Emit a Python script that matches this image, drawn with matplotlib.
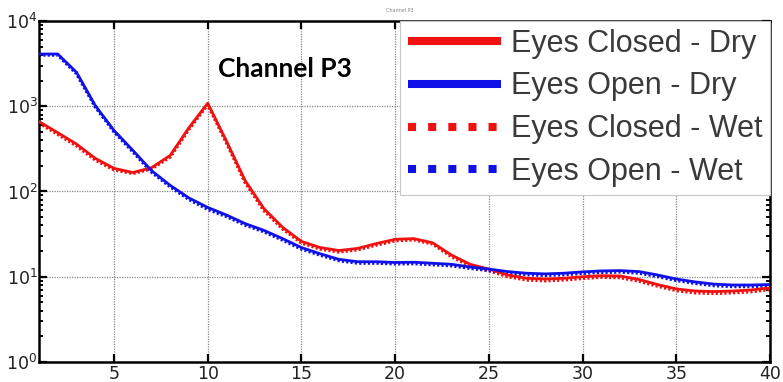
import math
import matplotlib
matplotlib.use("Agg")
import matplotlib.pyplot as plt
from matplotlib.lines import Line2D
from matplotlib.ticker import FixedLocator, LogLocator, NullFormatter, FuncFormatter

freq = list(range(1, 41))
closed_dry = [660, 490, 360, 245, 187, 167, 190, 265, 560, 1085,
              390, 134, 63, 38, 26, 22, 20.3, 21.5, 24.5, 27.5,
              28, 25, 18, 14, 12.3, 10.5, 9.6, 9.4, 9.6, 10,
              10.3, 10.2, 9.3, 8.1, 7.2, 6.8, 6.7, 6.8, 7.0, 7.4]
open_dry = [4100, 4100, 2500, 1020, 520, 305, 176, 118, 84, 65,
            53, 42, 35, 28, 22, 18.6, 16, 15, 15, 14.7,
            14.8, 14.4, 14, 13, 12.3, 11.5, 11, 10.8, 11, 11.4,
            11.7, 11.8, 11.5, 10.5, 9.4, 8.7, 8.2, 8.0, 8.0, 8.1]
closed_wet = [640, 470, 345, 235, 180, 163, 185, 255, 540, 1050,
              375, 128, 60, 36.5, 25, 21.2, 19.6, 20.8, 23.6, 26.5,
              27.2, 24.3, 17.3, 13.4, 11.8, 10.1, 9.2, 9.0, 9.2, 9.6,
              9.9, 9.8, 8.9, 7.8, 6.9, 6.5, 6.4, 6.5, 6.7, 7.1]
open_wet = [4000, 4000, 2420, 990, 505, 295, 170, 114, 81, 62,
            51, 40.5, 33.8, 27, 21.2, 18, 15.5, 14.5, 14.5, 14.2,
            14.3, 13.9, 13.5, 12.6, 11.9, 11.1, 10.6, 10.4, 10.6, 11,
            11.3, 11.4, 11.1, 10.1, 9.1, 8.4, 7.9, 7.7, 7.7, 7.8]
x_ticks = [5, 10, 15, 20, 25, 30, 35, 40]
labels = ["Eyes Closed - Dry", "Eyes Open - Dry", "Eyes Closed - Wet", "Eyes Open - Wet"]

RED = "#f01010"
BLUE = "#1010e8"

plt.rcParams['mathtext.fontset'] = 'custom'
plt.rcParams['mathtext.rm'] = 'DejaVu Sans'

fig = plt.figure(figsize=(7.83, 3.82), dpi=100)
ax = fig.add_axes([0.0498, 0.0524, 0.9336, 0.8926])

ax.plot(freq, closed_wet, color=RED, lw=2.6, ls=(0, (0.6, 0.6)), dash_capstyle='butt', zorder=2)
ax.plot(freq, open_wet, color=BLUE, lw=2.6, ls=(0, (0.6, 0.6)), dash_capstyle='butt', zorder=2)
ax.plot(freq, closed_dry, color=RED, lw=2.0, zorder=3)
ax.plot(freq, open_dry, color=BLUE, lw=2.0, zorder=3)

ax.set_yscale('log')
ax.set_xlim(1, 40)
ax.set_ylim(1, 1e4)
ax.xaxis.set_major_locator(FixedLocator(x_ticks))
ax.yaxis.set_major_locator(LogLocator(base=10, numticks=10))
ax.yaxis.set_minor_locator(LogLocator(base=10, subs=range(2, 10), numticks=20))
ax.yaxis.set_minor_formatter(NullFormatter())
ax.yaxis.set_major_formatter(FuncFormatter(lambda v, p: r"$10^{%d}$" % round(math.log10(v))))

ax.grid(True, which='major', color='#888888', ls=(0, (1, 1)), lw=0.9)
for s in ax.spines.values():
    s.set_linewidth(1.8)
    s.set_color('black')
ax.tick_params(which='both', direction='in', top=True, right=True, labelsize=12.5, pad=1)
ax.tick_params(which='major', length=6, width=1.6)
ax.tick_params(which='minor', length=3, width=1.4)
ax.tick_params(axis='x', pad=2)
for lab in ax.get_xticklabels() + ax.get_yticklabels():
    lab.set_color('#222222')

ax.text(0.245, 0.86, "Channel P3", transform=ax.transAxes, fontsize=19,
        fontweight='bold', family='Lato', ha='left', va='center', color='black')
fig.text(0.51, 0.972, "Channel P3", fontsize=3.5, color='#888888', ha='center', va='center')

handles = [
    Line2D([], [], color=RED, lw=5.8, solid_capstyle='butt'),
    Line2D([], [], color=BLUE, lw=5.8, solid_capstyle='butt'),
    Line2D([], [], color=RED, lw=5.8, ls=(0, (1, 1.5)), dash_capstyle='butt'),
    Line2D([], [], color=BLUE, lw=5.8, ls=(0, (1, 1.5)), dash_capstyle='butt'),
]
leg = ax.legend(handles, labels, loc='upper right', bbox_to_anchor=(1.0, 1.0),
                borderaxespad=0, fancybox=False, framealpha=1, edgecolor='#c8c8c8',
                prop={'family': 'Liberation Sans', 'size': 22}, handlelength=3.05,
                handletextpad=0.33, labelspacing=0.42, borderpad=0.25)
leg.get_frame().set_linewidth(0.8)
for t in leg.get_texts():
    t.set_color('#3a3a3a')
leg.set_zorder(5)

fig.savefig("out.png", dpi=100)
